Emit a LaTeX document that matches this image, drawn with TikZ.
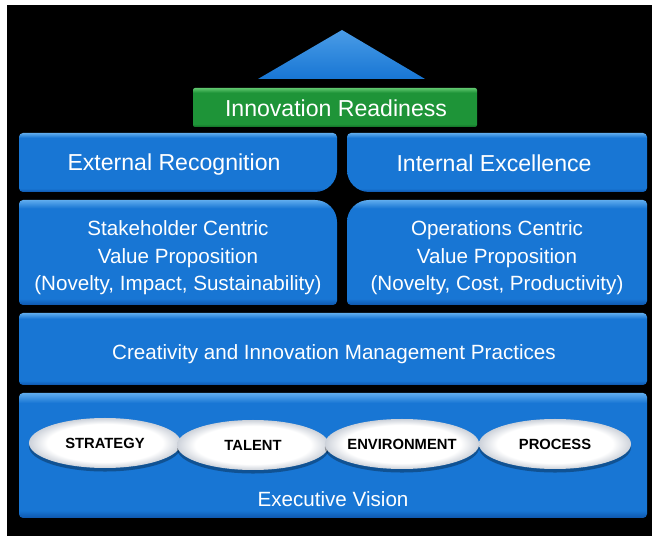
\documentclass[tikz,border=0pt]{standalone}
\usepackage{fontspec}
\setmainfont{Liberation Sans}
\usetikzlibrary{shapes.geometric}
\usetikzlibrary{shadows}

\definecolor{boxblue}{RGB}{24,118,212}
\definecolor{boxtop}{RGB}{95,172,238}
\definecolor{boxbot}{RGB}{14,86,172}
\definecolor{leafgreen}{RGB}{30,148,56}
\definecolor{leaftop}{RGB}{95,198,110}
\definecolor{leafbot}{RGB}{18,112,38}
\definecolor{pillrim}{RGB}{205,210,218}

% panels: light bevel on top, darker rim at the bottom
\pgfdeclareverticalshading{panelblue}{100bp}{color(0bp)=(boxbot); color(25bp)=(boxbot); color(28bp)=(boxblue); color(71bp)=(boxblue); color(75bp)=(boxtop); color(100bp)=(boxtop)}
\pgfdeclareverticalshading{panelgreen}{100bp}{color(0bp)=(leafbot); color(25bp)=(leafbot); color(29bp)=(leafgreen); color(69bp)=(leafgreen); color(75bp)=(leaftop); color(100bp)=(leaftop)}
\pgfdeclareradialshading{pillwhite}{\pgfpoint{0bp}{0bp}}{color(0bp)=(white); color(19bp)=(white); color(25bp)=(pillrim); color(50bp)=(pillrim)}

\def\panel[#1](#2,#3)(#4,#5)(#6:#7:#8:#9)% Syntax: [options] (lower left) (upper right) (radii tl:tr:br:bl)
{ \path[#1] ({#2+#9},#3) -- ({#4-#8},#3) arc (-90:0:#8) -- (#4,{#5-#7}) arc (0:90:#7) -- ({#2+#6},#5) arc (90:180:#6) -- (#2,{#3+#9}) arc (180:270:#9) -- cycle; }

\begin{document}
\begin{tikzpicture}[x=0.03cm,y=0.03cm,
	head/.style={text=white,font=\fontsize{19.7}{23}\selectfont},
	body/.style={text=white,align=center,font=\fontsize{17.6}{23.5}\selectfont},
	pill/.style={ellipse,shading=pillwhite,minimum width=4.56cm,minimum height=1.5cm,inner sep=0pt,
		font=\bfseries\fontsize{12.6}{14}\selectfont,
		drop shadow={shadow xshift=0pt,shadow yshift=-3pt,opacity=.3,fill=black}}]
	
	%background
	\useasboundingbox[fill=white] (0,0) rectangle (652,539);
	\fill[black] (7,3) rectangle (652,534);
	
	%roof
	\path[top color=boxtop!70!boxblue,bottom color=boxblue] (258,460) -- (342,509) -- (425,460) -- cycle;
	\panel[shading=panelgreen](193,412)(477,451)(2:2:2:2)
	\node[head] (ready) at (336,431) {Innovation Readiness};
	
	%two pillars
	\panel[shading=panelblue](19,347)(337,406)(4:4:22:4)
	\panel[shading=panelblue](347,347)(647,406)(4:4:4:22)
	\node[head] (extrec) at (174,374) {External Recognition};
	\node[head] (intexc) at (494,376) {Internal Excellence};
	%
	\panel[shading=panelblue](19,234)(337,339)(4:22:4:4)
	\panel[shading=panelblue](347,234)(647,339)(22:4:4:4)
	\node[body] (stake) at (178,281) {Stakeholder Centric\\Value Proposition\\(Novelty, Impact, Sustainability)};
	\node[body] (oper) at (497,281) {Operations Centric\\Value Proposition\\(Novelty, Cost, Productivity)};
	
	%foundation
	\panel[shading=panelblue](19,154)(647,226)(4:4:4:4)
	\node[body] (practice) at (334,185) {Creativity and Innovation Management Practices};
	%
	\panel[shading=panelblue](19,21)(647,146)(4:4:4:4)
	\node[pill] (strategy) at (105,96) {STRATEGY};
	\node[pill] (talent) at (253,94) {TALENT};
	\node[pill] (environ) at (402,95) {ENVIRONMENT};
	\node[pill] (process) at (555,95) {PROCESS};
	\node[body] (vision) at (333,40) {Executive Vision};
	
\end{tikzpicture}
\end{document}
